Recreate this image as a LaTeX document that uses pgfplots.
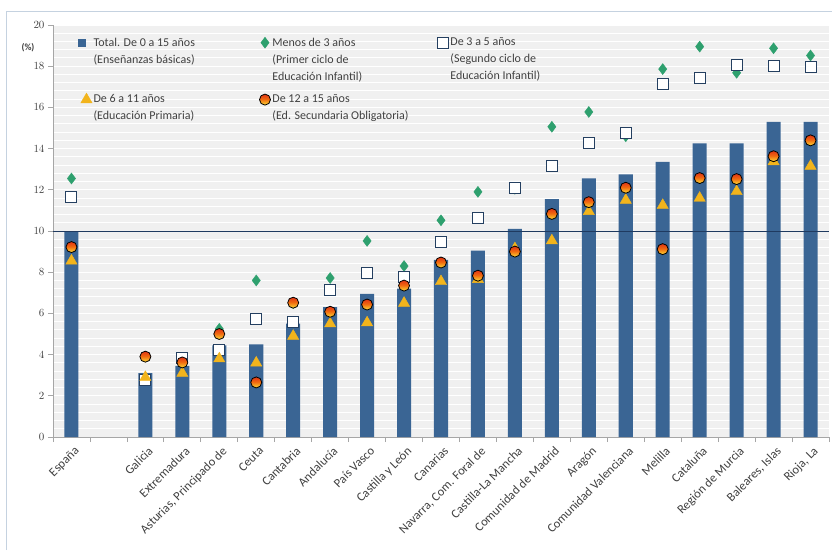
\documentclass[border=0pt]{standalone}
\usepackage{pgfplots}
\usepackage{pgfplotstable}
\pgfplotsset{compat=1.18}
\usepackage{fontspec}
\setmainfont{Carlito}
\definecolor{barblue}{HTML}{3A6594}
\definecolor{diagreen}{HTML}{2EA06E}
\definecolor{sqnavy}{HTML}{243F60}
\definecolor{trigold}{HTML}{F2B41C}
\definecolor{refnavy}{HTML}{1F3A60}
\definecolor{bggray}{HTML}{F0F0F0}
\definecolor{axgray}{HTML}{A6A6A6}
\definecolor{txtgray}{HTML}{404040}
\definecolor{framecol}{HTML}{C5D2E0}
\definecolor{balltop}{HTML}{E23A14}
\definecolor{ballmid}{HTML}{F06A10}
\definecolor{ballbot}{HTML}{FAC830}
\pgfdeclareverticalshading{ballshade}{100bp}{color(0bp)=(ballbot); color(30bp)=(ballbot); color(52bp)=(ballmid); color(72bp)=(balltop); color(100bp)=(balltop)}
\pgfdeclareplotmark{ball}{%
  \pgfpathcircle{\pgfpointorigin}{\pgfplotmarksize}%
  \pgfshadepath{ballshade}{0}%
  \pgfusepath{discard}%
  \pgfpathcircle{\pgfpointorigin}{\pgfplotmarksize}%
  \pgfusepath{stroke}}

\pgfplotstableread{
x total m3 d35 d611 d1215
0 10.0 12.55 11.67 8.55 9.22
2 3.1 2.85 2.75 2.9 3.9
3 3.45 3.8 3.82 3.1 3.62
4 4.45 5.25 4.2 3.8 5.0
5 4.5 7.6 5.72 3.6 2.65
6 5.5 6.5 5.58 4.9 6.52
7 6.3 7.72 7.14 5.5 6.08
8 6.95 9.52 7.98 5.55 6.43
9 7.2 8.3 7.75 6.5 7.35
10 8.6 10.52 9.45 7.55 8.47
11 9.05 11.9 10.65 7.65 7.83
12 10.1 12.05 12.07 9.15 9.0
13 11.55 15.06 13.17 9.53 10.83
14 12.55 15.78 14.28 10.95 11.4
15 12.75 14.6 14.75 11.5 12.1
16 13.35 17.86 17.12 11.25 9.12
17 14.25 18.95 17.45 11.6 12.57
18 14.25 17.68 18.05 11.92 12.52
19 15.3 18.87 18.02 13.37 13.63
20 15.3 18.52 17.98 13.15 14.4
}\datatable

\begin{document}
\begin{tikzpicture}
\path[use as bounding box] (-53pt,-113pt) rectangle (779pt,437pt);
\draw[framecol, line width=1pt] (-46pt,-113pt) -- (-46pt,425pt) -- (779pt,425pt);
\begin{axis}[
  at={(0pt,0pt)}, anchor=south west,
  scale only axis, width=776pt, height=412pt,
  xmin=-0.5, xmax=20.5, ymin=0, ymax=20,
  axis x line*=bottom, axis y line*=left,
  axis line style={axgray, line width=0.8pt},
  axis background/.style={fill=bggray},
  xtick={0,...,20},
  xticklabels={España,,Galicia,Extremadura,{Asturias, Principado de},Ceuta,Cantabria,Andalucía,País Vasco,Castilla y León,Canarias,{Navarra, Com. Foral de},Castilla-La Mancha,Comunidad de Madrid,Aragón,Comunidad Valenciana,Melilla,Cataluña,Región de Murcia,{Baleares, Islas},{Rioja, La}},
  x tick label style={rotate=45, anchor=north east, font=\fontsize{12.5}{14}\selectfont, text=txtgray, inner sep=1pt, yshift=-3pt},
  major x tick style={draw=none},
  minor xtick={-0.5,0.5,...,20.5},
  minor x tick style={axgray, line width=0.8pt},
  minor tick length=5pt, major tick length=5pt,
  tick align=outside,
  ytick={0,2,...,20},
  minor ytick={0.4,0.8,...,19.7},
  minor y tick style={draw=none},
  major y tick style={axgray, line width=0.8pt},
  y tick label style={font=\fontsize{10.5}{12}\selectfont\bfseries, text=txtgray},
  ymajorgrids, yminorgrids,
  major grid style={white, line width=1pt},
  minor grid style={white, line width=1pt},
  legend columns=3,
  legend cell align=left,
  legend style={at={(0.028,0.978)}, anchor=north west, draw=none, fill=none,
    font=\fontsize{12}{17}\selectfont, text=txtgray, row sep=44pt,
    nodes={inner sep=1.5pt},
    /tikz/every even column/.append style={column sep=0pt}},
]
\addplot[ybar, bar width=0.38, fill=barblue, draw=none,
  legend image code/.code={\fill[barblue] (0pt,-4pt) rectangle (8pt,4pt);}]
  table[x=x, y=total] {\datatable};
\addlegendentry{\parbox[t]{164pt}{Total. De 0 a 15 años\\(Enseñanzas básicas)}}
\addplot[refnavy, line width=1pt, forget plot] coordinates {(-0.5,10) (20.5,10)};
\addplot[only marks, mark=diamond*, mark size=5.5pt, mark options={fill=diagreen, draw=diagreen}]
  table[x=x, y=m3] {\datatable};
\addlegendentry{\parbox[t]{164pt}{Menos de 3 años\\(Primer ciclo de\\ Educación Infantil)}}
\addplot[only marks, mark=square*, mark size=5.5pt, mark options={fill=white, draw=sqnavy, line width=1pt}]
  table[x=x, y=d35] {\datatable};
\addlegendentry{\parbox[t]{164pt}{De 3 a 5 años\\ (Segundo ciclo de\\ Educación Infantil)}}
\addplot[only marks, mark=triangle*, mark size=6.5pt, mark options={fill=trigold, draw=trigold}]
  table[x=x, y=d611] {\datatable};
\addlegendentry{\parbox[t]{164pt}{De 6 a 11 años\\(Educación Primaria)}}
\addplot[only marks, mark=ball, mark size=5.5pt, mark options={draw=black, line width=0.8pt}]
  table[x=x, y=d1215] {\datatable};
\addlegendentry{\parbox[t]{164pt}{De 12 a 15 años\\(Ed. Secundaria Obligatoria)}}
\end{axis}
\node[font=\fontsize{9.5}{11}\selectfont\bfseries, text=txtgray] at (-25pt,389pt) {(\%)};
\end{tikzpicture}
\end{document}
